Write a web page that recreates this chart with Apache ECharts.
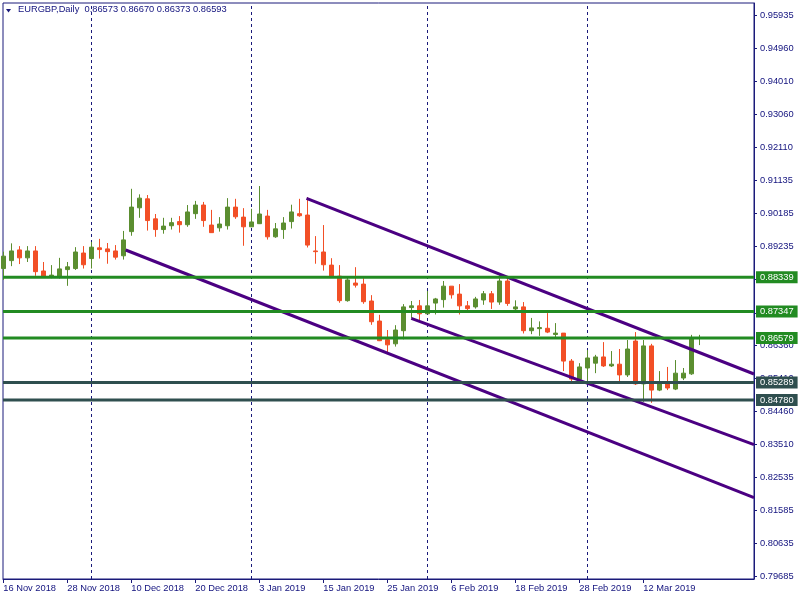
<!DOCTYPE html>
<html>
<head>
<meta charset="utf-8">
<script src="https://cdn.jsdelivr.net/npm/echarts@6/dist/echarts.min.js"></script>
<style>html,body{margin:0;padding:0;background:#fff}#c{width:800px;height:600px}</style>
</head>
<body>
<div id="c"></div>
<script>
// ---- data (EURGBP Daily) ----
const symbolName = 'EURGBP,Daily';
const open = [0.8859,0.8882,0.8913,0.8890,0.8910,0.8852,0.8834,0.8835,0.8856,0.8859,0.8904,0.8888,0.8919,0.8916,0.8910,0.8896,0.8966,0.9035,0.9061,0.9003,0.8972,0.8983,0.8995,0.8986,0.9018,0.9043,0.8985,0.8977,0.8983,0.9037,0.9008,0.8980,0.8989,0.9011,0.8951,0.8972,0.8995,0.9018,0.9014,0.8910,0.8907,0.8869,0.8837,0.8766,0.8817,0.8814,0.8765,0.8707,0.8653,0.8641,0.8679,0.8746,0.8751,0.8728,0.8759,0.8769,0.8808,0.8785,0.8751,0.8748,0.8768,0.8786,0.8762,0.8823,0.8742,0.8748,0.8679,0.8685,0.8686,0.8668,0.8672,0.8591,0.8538,0.8571,0.8585,0.8603,0.8577,0.8582,0.8551,0.8649,0.8525,0.8635,0.8507,0.8525,0.8510,0.8542,0.8554,0.86573];
const close = [0.8895,0.8910,0.8890,0.8910,0.8850,0.8835,0.8840,0.8858,0.8864,0.8907,0.8870,0.8921,0.8914,0.8908,0.8892,0.8942,0.9037,0.9063,0.8998,0.8972,0.8982,0.8992,0.8986,0.9023,0.9043,0.8998,0.8963,0.8988,0.9037,0.9009,0.8980,0.8994,0.9017,0.8951,0.8974,0.8991,0.9023,0.9012,0.8927,0.8908,0.8870,0.8833,0.8766,0.8826,0.8811,0.8763,0.8705,0.8650,0.8638,0.8681,0.8748,0.8751,0.8728,0.8751,0.8771,0.8808,0.8783,0.8751,0.8743,0.8771,0.8786,0.8762,0.8823,0.8758,0.8748,0.8679,0.8687,0.8688,0.8675,0.8672,0.8591,0.8539,0.8574,0.8600,0.8603,0.8577,0.8582,0.8551,0.8626,0.8525,0.8635,0.8507,0.8525,0.8513,0.8556,0.8556,0.8659,0.86593];
const low = [0.8826,0.8866,0.8872,0.8878,0.8838,0.8834,0.8831,0.8830,0.8809,0.8855,0.8859,0.8859,0.8888,0.8873,0.8885,0.8885,0.8954,0.9006,0.8969,0.8951,0.8960,0.8972,0.8963,0.8980,0.9003,0.8980,0.8962,0.8966,0.8972,0.9003,0.8925,0.8979,0.8988,0.8943,0.8948,0.8945,0.8975,0.9009,0.8920,0.8873,0.8853,0.8832,0.8760,0.8763,0.8804,0.8757,0.8696,0.8649,0.8614,0.8633,0.8654,0.8715,0.8710,0.8727,0.8726,0.8746,0.8772,0.8726,0.8739,0.8743,0.8754,0.8742,0.8754,0.8751,0.8738,0.8671,0.8669,0.8664,0.8672,0.8659,0.8562,0.8528,0.8532,0.8525,0.8556,0.8574,0.8574,0.8533,0.8545,0.8522,0.8473,0.8470,0.8504,0.8507,0.8507,0.8536,0.8551,0.86373];
const high = [0.8908,0.8932,0.8924,0.8924,0.8924,0.8878,0.8869,0.8890,0.8878,0.8921,0.8924,0.8936,0.8945,0.8933,0.8927,0.8968,0.9090,0.9074,0.9072,0.9017,0.9006,0.9006,0.9011,0.9043,0.9055,0.9052,0.9029,0.9008,0.9063,0.9061,0.9034,0.9032,0.9098,0.9029,0.8991,0.9008,0.9044,0.9061,0.9066,0.8953,0.8985,0.8889,0.8869,0.8834,0.8863,0.8831,0.8782,0.8725,0.8681,0.8695,0.8756,0.8765,0.8768,0.8794,0.8774,0.8823,0.8808,0.8814,0.8765,0.8777,0.8794,0.8794,0.8840,0.8830,0.8767,0.8762,0.8716,0.8706,0.8730,0.8701,0.8672,0.8597,0.8585,0.8623,0.8609,0.8646,0.8620,0.8626,0.8652,0.8675,0.8652,0.8641,0.8562,0.8574,0.8594,0.8571,0.8667,0.86670];

// x tick labels (bar index -> date)
const dateTickIdx = [0, 8, 16, 24, 32, 40, 48, 56, 64, 72, 80];
const dateTickLabels = ['16 Nov 2018','28 Nov 2018','10 Dec 2018','20 Dec 2018','3 Jan 2019','15 Jan 2019','25 Jan 2019','6 Feb 2019','18 Feb 2019','28 Feb 2019','12 Mar 2019'];
// month separators (bar index of first bar of month)
const monthStartIdx = [11, 31, 53, 73];
// price scale tick labels
const priceTicks = [0.79685,0.80635,0.81585,0.82535,0.83510,0.84460,0.85410,0.86360,0.87310,0.88285,0.89235,0.90185,0.91135,0.92110,0.93060,0.94010,0.94960,0.95935];
// horizontal levels
const levels = [0.88339, 0.87347, 0.86579, 0.85289, 0.84780];
// trend lines [barIndex, price]
const trendUpper = [[37.9, 0.90625], [93.84, 0.85536]];
const trendMiddle = [[51.0, 0.87149], [93.84, 0.83488]];
const trendLower = [[15.3, 0.89128], [93.84, 0.81953]];

// ---- styles ----
const NAVY = '#1a1a7a';
const TXT = '#12127e';
const BULL = '#5b8e30';
const BEAR = '#f24f26';
const GREEN = '#228b22';
const SLATE = '#2f4f4f';
const INDIGO = '#4b0082';
const levelColors = [GREEN, GREEN, GREEN, SLATE, SLATE];
const FONT = 'Liberation Sans, Arial, sans-serif';
const FS = 9.3;
const X_MIN = -0.0375, X_MAX = 93.8375;

const candles = open.map((o, i) => [i, o, close[i], low[i], high[i]]);
const labelMap = {};
dateTickIdx.forEach((v, i) => { labelMap[v] = dateTickLabels[i]; });
const last = open.length - 1;
const titleText = symbolName + '  ' + [open[last], high[last], low[last], close[last]].map(v => v.toFixed(5)).join(' ');

const chart = echarts.init(document.getElementById('c'), null, {renderer: 'canvas'});
const trendSeries = (d) => ({
  type: 'line', data: d, showSymbol: false, symbol: 'none', silent: true, z: 4,
  lineStyle: {color: INDIGO, width: 3}, animation: false
});
const levelSeries = levels.map((v, i) => ({
  type: 'line', data: [[X_MIN, v], [X_MAX, v]], showSymbol: false, symbol: 'none', silent: true, z: 5,
  lineStyle: {color: levelColors[i], width: 3}, animation: false,
  endLabel: {show: true, distance: 2, formatter: () => v.toFixed(5),
    backgroundColor: levelColors[i], color: '#ffffff', padding: [1, 4, 0, 4],
    fontFamily: FONT, fontSize: FS, lineHeight: 11}
}));

chart.setOption({
  animation: false,
  backgroundColor: '#ffffff',
  grid: {left: 3, right: 46, top: 3, bottom: 21, show: true, borderColor: NAVY, borderWidth: 1, backgroundColor: '#ffffff'},
  xAxis: {
    type: 'value', min: X_MIN, max: X_MAX,
    splitLine: {show: false},
    axisLine: {show: true, onZero: false, lineStyle: {color: NAVY, width: 1}},
    axisTick: {show: true, customValues: dateTickIdx, length: 4, lineStyle: {color: NAVY}},
    axisLabel: {customValues: dateTickIdx, formatter: v => labelMap[Math.round(v)] || '', align: 'left',
      margin: 5, color: TXT, fontFamily: FONT, fontSize: FS}
  },
  yAxis: {
    type: 'value', position: 'right', min: 0.79598, max: 0.96282, scale: true,
    splitLine: {show: false},
    axisLine: {show: true, onZero: false, lineStyle: {color: NAVY, width: 1}},
    axisTick: {show: true, customValues: priceTicks, length: 3, lineStyle: {color: NAVY}},
    axisLabel: {customValues: priceTicks, formatter: v => v.toFixed(5), margin: 6,
      color: TXT, fontFamily: FONT, fontSize: FS}
  },
  series: [
    {
      type: 'candlestick', data: candles, barWidth: 4, z: 2, silent: true,
      itemStyle: {color: BULL, color0: BEAR, borderColor: BULL, borderColor0: BEAR, borderWidth: 1},
      markLine: {
        z: 1, silent: true, symbol: ['none', 'none'], animation: false,
        label: {show: false},
        lineStyle: {color: NAVY, width: 1, type: [3, 3]},
        data: monthStartIdx.map(v => ({xAxis: v}))
      }
    },
    trendSeries(trendUpper),
    trendSeries(trendMiddle),
    trendSeries(trendLower)
  ].concat(levelSeries),
  graphic: [
    {type: 'polygon', shape: {points: [[6, 9], [11, 9], [8.5, 12.5]]}, style: {fill: NAVY}, z: 10},
    {type: 'text', left: 18, top: 5, z: 10,
      style: {text: titleText, fill: TXT, font: FS + 'px ' + FONT}}
  ]
});
</script>
</body>
</html>
